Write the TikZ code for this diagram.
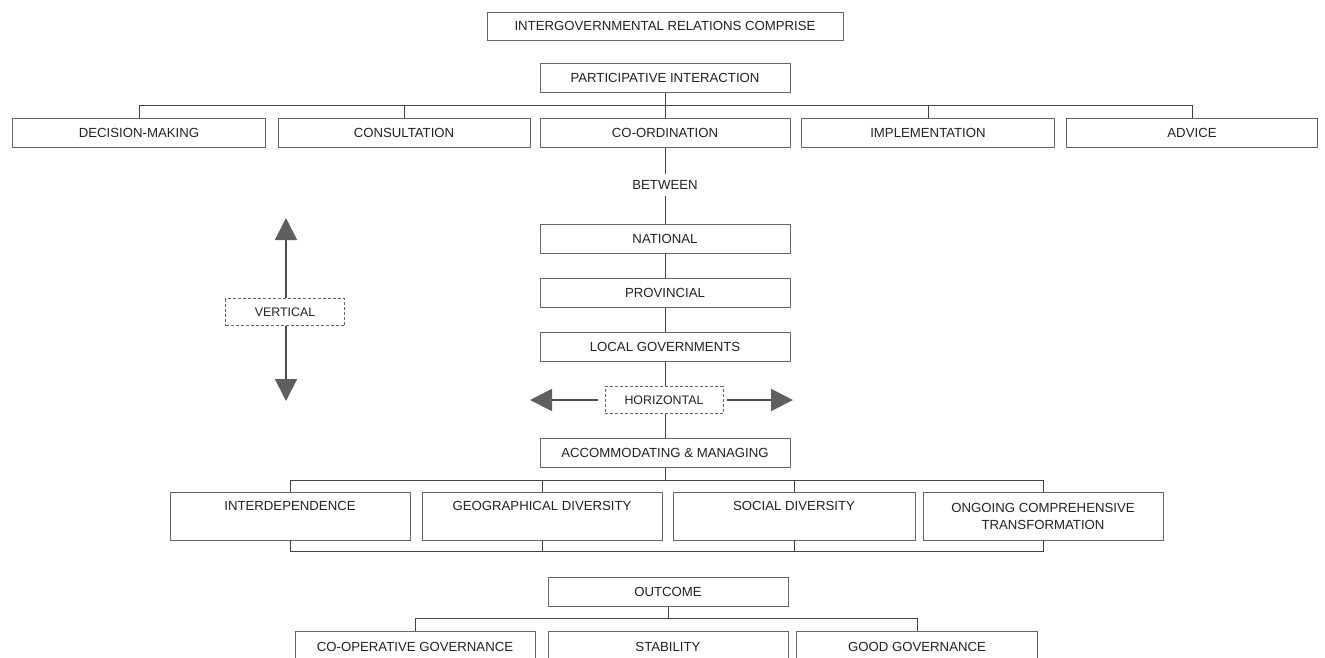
\documentclass[tikz,border=0pt]{standalone}
\usepackage{fontspec}
\setmainfont{Liberation Sans}
\usetikzlibrary{arrows.meta}
\definecolor{edge}{HTML}{666666}
\definecolor{txt}{HTML}{222222}
\definecolor{arr}{HTML}{5F5F5F}
\tikzset{
  box/.style={draw=edge, line width=0.9pt, minimum width=250pt, minimum height=29pt, inner sep=0pt, text=txt, font=\fontsize{13.2}{17}\selectfont, align=center},
  tallbox/.style={box, minimum width=240pt, minimum height=48pt},
  dbox/.style={box, dashed, dash pattern=on 3pt off 2pt, minimum width=119pt, minimum height=26pt, font=\fontsize{12.4}{15}\selectfont},
  plain/.style={inner sep=0pt, text=txt, font=\fontsize{13.2}{17}\selectfont},
  link/.style={draw=txt!85, line width=0.9pt},
  bigarrow/.style={draw=arr!80!black, line width=1.8pt, -{Triangle[width=22pt,length=22pt,color=arr]}}
}
\begin{document}
\begin{tikzpicture}[x=1pt,y=-1pt]
\useasboundingbox (0,0) rectangle (1325,657);
% top
\node[box, minimum width=356pt, minimum height=28pt] (top) at (665,26) {INTERGOVERNMENTAL RELATIONS COMPRISE};
\node[box] (pi) at (665,78) {PARTICIPATIVE INTERACTION};
% row 1
\node[box, minimum width=253pt] (dm) at (139,133) {DECISION-MAKING};
\node[box, minimum width=252pt] (cons) at (404,133) {CONSULTATION};
\node[box] (coord) at (665,133) {CO-ORDINATION};
\node[box, minimum width=253pt] (impl) at (928,133) {IMPLEMENTATION};
\node[box, minimum width=251pt] (adv) at (1192,133) {ADVICE};
\coordinate (bus1) at (665,105);
\draw[link] (pi.south) -- (bus1);
\draw[link] (dm.north) -- (dm.north |- bus1) -| (adv.north);
\foreach \n in {cons,coord,impl} \draw[link] (\n.north) -- (\n.north |- bus1);
% between
\node[plain] (btw) at (665,185) {BETWEEN};
\node[box] (nat) at (665,239) {NATIONAL};
\node[box] (prov) at (665,293) {PROVINCIAL};
\node[box] (lg) at (665,347) {LOCAL GOVERNMENTS};
\draw[link] (coord.south) -- ([yshift=6pt]btw.north);
\draw[link] ([yshift=-6pt]btw.south) -- (nat.north);
\draw[link] (nat.south) -- (prov.north);
\draw[link] (prov.south) -- (lg.north);
% horizontal
\node[dbox, minimum width=118pt, minimum height=27pt] (hor) at (664,400) {HORIZONTAL};
\coordinate (htipL) at (530,400);
\coordinate (htipR) at (793,400);
\draw[bigarrow] ([xshift=-7pt]hor.west) -- (htipL);
\draw[bigarrow] ([xshift=4pt]hor.east) -- (htipR);
\node[box] (acc) at (665,453) {ACCOMMODATING \& MANAGING};
\draw[link] (lg.south) -- (lg.south |- hor.north);
\draw[link] (acc.north |- hor.south) -- (acc.north);
% vertical
\node[dbox, minimum width=119pt, minimum height=27pt] (vert) at (285,312) {VERTICAL};
\coordinate (vtipU) at (286,218);
\coordinate (vtipD) at (286,401);
\draw[bigarrow] (vert.north -| vtipU) -- (vtipU);
\draw[bigarrow] (vert.south -| vtipD) -- (vtipD);
% row 2
\node[tallbox] (idp) at (290,516) {INTERDEPENDENCE\\[-2pt]\strut};
\node[tallbox] (geo) at (542,516) {GEOGRAPHICAL DIVERSITY\\[-2pt]\strut};
\node[tallbox, minimum width=242pt] (soc) at (794,516) {SOCIAL DIVERSITY\\[-2pt]\strut};
\node[tallbox] (ong) at (1043,516) {ONGOING COMPREHENSIVE\\TRANSFORMATION};
\coordinate (bus2) at (665,480);
\coordinate (bus3) at (665,551);
\draw[link] (acc.south) -- (bus2);
\draw[link] (idp.north) -- (idp.north |- bus2) -| (ong.north);
\draw[link] (geo.north) -- (geo.north |- bus2);
\draw[link] (soc.north) -- (soc.north |- bus2);
\draw[link] (idp.south) -- (idp.south |- bus3) -| (ong.south);
\draw[link] (geo.south) -- (geo.south |- bus3);
\draw[link] (soc.south) -- (soc.south |- bus3);
% outcome
\node[box, minimum width=240pt] (out) at (668,592) {OUTCOME};
\node[box, minimum width=240pt, minimum height=32pt] (cog) at (415,647) {CO-OPERATIVE GOVERNANCE};
\node[box, minimum width=240pt, minimum height=32pt] (stab) at (668,647) {STABILITY};
\node[box, minimum width=241pt, minimum height=32pt] (gg) at (917,647) {GOOD GOVERNANCE};
\coordinate (bus4) at (668,618);
\draw[link] (out.south) -- (bus4);
\draw[link] (cog.north) -- (cog.north |- bus4) -| (gg.north);
\end{tikzpicture}
\end{document}
